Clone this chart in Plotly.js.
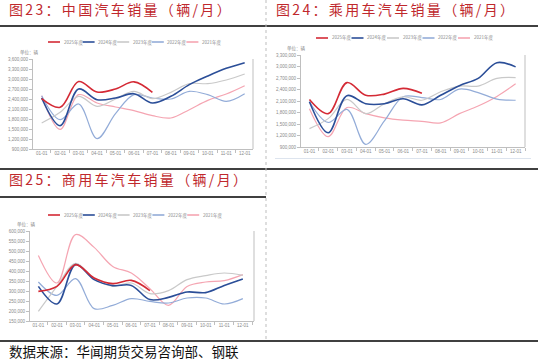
<!DOCTYPE html>
<html><head><meta charset="utf-8">
<script src="https://cdn.plot.ly/plotly-3.0.1.min.js"></script>
<style>html,body{margin:0;padding:0;background:#fff}#chart{width:538px;height:363px}</style>
</head><body><div id="chart"></div>
<script>
const months = ['01-01','02-01','03-01','04-01','05-01','06-01','07-01','08-01','09-01','10-01','11-01','12-01'];
const seriesNames = ['2025年度','2024年度','2023年度','2022年度','2021年度'];
const seriesColors = ['#D42A35','#2B4E98','#C9C9C9','#93ACD8','#F5A5B2'];
const seriesWidths = [1.6,1.6,1.2,1.2,1.2];

// 图23 中国汽车销量
const total2025 = [2410000,2150000,2925000,2610000,2700000,2915000,2600000];
const total2024 = [2430000,1600000,2700000,2380000,2430000,2560000,2280000,2480000,2830000,3090000,3320000,3490000];
const total2023 = [1680000,2000000,2480000,2180000,2400000,2630000,2410000,2600000,2860000,2860000,2970000,3150000];
const total2022 = [2500000,1780000,2250000,1210000,1960000,2530000,2430000,2400000,2630000,2530000,2330000,2560000];
const total2021 = [2500000,1490000,2530000,2280000,2160000,2050000,1900000,1830000,2080000,2360000,2550000,2800000];

// 图24 乘用车汽车销量
const pass2025 = [2140000,1770000,2580000,2250000,2280000,2430000,2300000];
const pass2024 = [2080000,1270000,2240000,2030000,2030000,2160000,2000000,2250000,2500000,2690000,3100000,2990000];
const pass2023 = [1380000,1640000,2140000,1770000,2030000,2210000,2120000,2340000,2490000,2490000,2690000,2710000];
const pass2022 = [2080000,1540000,1880000,970000,1580000,2210000,2190000,2140000,2410000,2320000,2150000,2120000];
const pass2021 = [1900000,1170000,1930000,1770000,1660000,1600000,1570000,1530000,1770000,1970000,2220000,2550000];

// 图25 商用车汽车销量
const comm2025 = [298000,323000,432000,365000,337000,353000,302000];
const comm2024 = [323000,235000,432000,357000,327000,328000,257000,268000,295000,292000,328000,360000];
const comm2023 = [198000,323000,438000,362000,323000,340000,287000,302000,357000,377000,390000,378000];
const comm2022 = [345000,278000,362000,212000,228000,262000,248000,240000,265000,265000,235000,262000];
const comm2021 = [478000,340000,582000,518000,423000,390000,312000,228000,323000,345000,352000,382000];

const W = 538, H = 363;
const px = v => v / W, py = v => 1 - v / H;
const spaced = s => Array.from(s).join('\u2006');

const charts = [
  {ax:'', data:[total2025,total2024,total2023,total2022,total2021], x0:33, x1:253, yTop:59, yBot:149, range:[900000,3600000], dtick:300000, xr:[-0.47,11.45], legY:42, legX:48, legStep:34.6, unitX:29, unitY:52},
  {ax:'2', data:[pass2025,pass2024,pass2023,pass2022,pass2021], x0:301, x1:525, yTop:55, yBot:147, range:[900000,3300000], dtick:300000, xr:[-0.45,11.5], legY:38, legX:316, legStep:35.5, unitX:297, unitY:48},
  {ax:'3', data:[comm2025,comm2024,comm2023,comm2022,comm2021], x0:30, x1:254, yTop:231, yBot:321, range:[150000,600000], dtick:50000, xr:[-0.45,11.6], legY:215, legX:48, legStep:34.8, unitX:26, unitY:224}
];

const traces = [];
const shapes = [];
const annotations = [];
const layout = {
  width: W, height: H, margin:{l:0,r:0,t:0,b:0},
  paper_bgcolor:'#fff', plot_bgcolor:'#fff', showlegend:false,
  font:{family:'"Noto Sans CJK SC", "Noto Sans", sans-serif'}
};
const tickFont = {size:4.5, color:'#8a8a8a', family:'"Liberation Sans", Arial, sans-serif'};

charts.forEach(c => {
  c.data.forEach((arr, i) => {
    traces.push({
      x: months.slice(0, arr.length), y: arr, type:'scatter', mode:'lines',
      name: seriesNames[i], xaxis:'x'+c.ax, yaxis:'y'+c.ax,
      line:{color:seriesColors[i], width:seriesWidths[i], shape:'spline', smoothing:1}
    });
  });
  layout['xaxis'+c.ax] = {
    domain:[px(c.x0), px(c.x1)], anchor:'y'+c.ax, type:'category',
    categoryorder:'array', categoryarray:months, range:c.xr,
    showline:true, linecolor:'#bfbfbf', linewidth:1, ticks:'outside', ticklen:3,
    tickcolor:'#bfbfbf', tickson:'boundaries', tickangle:0, tickfont:tickFont, showgrid:false, zeroline:false,
    fixedrange:true
  };
  layout['yaxis'+c.ax] = {
    domain:[py(c.yBot), py(c.yTop)], anchor:'x'+c.ax, range:c.range, dtick:c.dtick,
    tickformat:',d', showline:true, linecolor:'#bfbfbf', linewidth:1, ticks:'outside', ticklen:3,
    tickcolor:'#bfbfbf', tickfont:tickFont, showgrid:false, zeroline:false, fixedrange:true
  };
  shapes.push({type:'line', xref:'paper', yref:'paper', x0:px(c.x1), x1:px(c.x1), y0:py(c.yBot), y1:py(c.yTop), line:{color:'#bfbfbf', width:1}});
  seriesNames.forEach((n, i) => {
    const lx = c.legX + i * c.legStep;
    shapes.push({type:'line', xref:'paper', yref:'paper', x0:px(lx), x1:px(lx+12), y0:py(c.legY), y1:py(c.legY), line:{color:seriesColors[i], width:1.6}});
    annotations.push({xref:'paper', yref:'paper', x:px(lx+13.5), y:py(c.legY), text:n, showarrow:false, xanchor:'left', yanchor:'middle', font:{size:4.5, color:'#8a8a8a'}});
  });
  annotations.push({xref:'paper', yref:'paper', x:px(c.unitX), y:py(c.unitY), text:'单位：辆', showarrow:false, xanchor:'center', yanchor:'middle', font:{size:4.5, color:'#8a8a8a'}});
});

const ordered = [];
[0,1,2].forEach(k => { for (let i = 4; i >= 0; i--) ordered.push(traces[k*5 + i]); });

const titleColor = '#C0282D';
annotations.push({xref:'paper', yref:'paper', x:px(7), y:py(9), text:spaced('图23：中国汽车销量（辆/月）'), showarrow:false, xanchor:'left', yanchor:'middle', font:{size:14, color:titleColor}});
annotations.push({xref:'paper', yref:'paper', x:px(274), y:py(9), text:spaced('图24：乘用车汽车销量（辆/月）'), showarrow:false, xanchor:'left', yanchor:'middle', font:{size:14, color:titleColor}});
annotations.push({xref:'paper', yref:'paper', x:px(7), y:py(179), text:spaced('图25：商用车汽车销量（辆/月）'), showarrow:false, xanchor:'left', yanchor:'middle', font:{size:14, color:titleColor}});
annotations.push({xref:'paper', yref:'paper', x:px(7), y:py(351), text:'数据来源：华闻期货交易咨询部、钢联', showarrow:false, xanchor:'left', yanchor:'middle', font:{size:13.5, color:'#111'}});

[[26,0,538],[169,0,538],[197,0,266],[341,0,538]].forEach(([y,a,b]) => {
  shapes.push({type:'line', xref:'paper', yref:'paper', x0:px(a), x1:px(b), y0:py(y), y1:py(y), line:{color:'#000', width:1.5}});
});
shapes.push({type:'line', xref:'paper', yref:'paper', x0:px(266), x1:px(266), y0:py(0), y1:py(341), line:{color:'#bdbdbd', width:1, dash:'3px,3px'}});
shapes.push({type:'line', xref:'paper', yref:'paper', x0:px(275), x1:px(531), y0:py(158.5), y1:py(158.5), line:{color:'#dde4ee', width:1}});

layout.shapes = shapes;
layout.annotations = annotations;
Plotly.newPlot('chart', ordered, layout, {displayModeBar:false, staticPlot:true});
</script></body></html>
